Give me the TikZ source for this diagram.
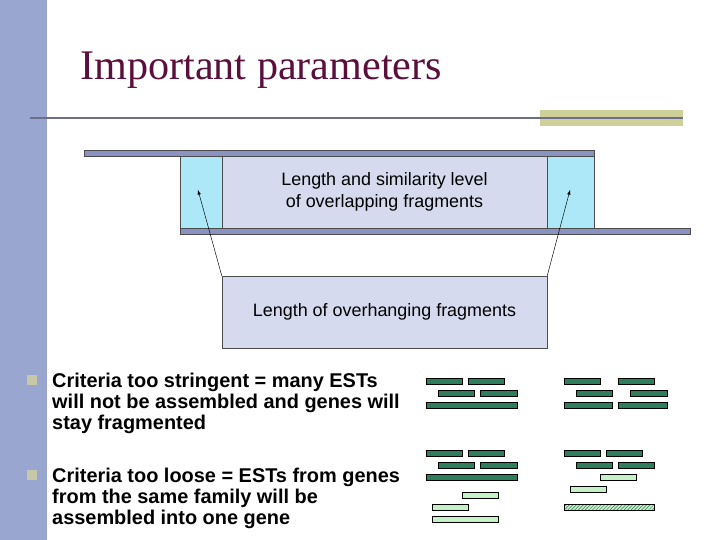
\documentclass[tikz,border=0pt]{standalone}
\usepackage{fontspec}
\setmainfont{Liberation Sans}
\newfontfamily\titlefont{Liberation Serif}
\usetikzlibrary{positioning,patterns}
\definecolor{sidebar}{HTML}{98A6D0}
\definecolor{titlered}{HTML}{5A0F3C}
\definecolor{rulegray}{HTML}{6B6F8C}
\definecolor{khaki}{HTML}{CFCF9A}
\definecolor{seqblue}{HTML}{8A92C0}
\definecolor{overcyan}{HTML}{ACE8F8}
\definecolor{boxlav}{HTML}{D6DAEE}
\definecolor{estdark}{HTML}{2E7D5B}
\definecolor{estlight}{HTML}{C8F0C8}
\definecolor{bulletc}{HTML}{C8C8A8}
\tikzset{
  seq/.style={draw=black!70, fill=seqblue, line width=0.6pt},
  est/.style={draw=black, fill=estdark, line width=0.6pt},
  estl/.style={draw=black, fill=estlight, line width=0.6pt},
  lbl/.style={font=\fontsize{15.3}{18.7}\selectfont, align=center},
  bul/.style={font=\bfseries\fontsize{17}{17.9}\selectfont, align=left, anchor=north west, inner sep=0pt},
}
\begin{document}
\begin{tikzpicture}[x=0.03cm, y=-0.03cm]
	% Frame and title:
	\useasboundingbox (0,0) rectangle (720,540);
	\fill[sidebar] (0,0) rectangle (47,540);
	\fill[khaki] (540,110) rectangle (683,126);
	\draw[rulegray, line width=1.2pt] (30,118) -- (683,118);
	\node[anchor=west, text=titlered, font=\titlefont\fontsize{36}{40}\selectfont, inner sep=0pt] (title) at (80,70) {Important parameters};
	% Sequences and overlap:
	\draw[seq] (84,150) rectangle (594,156);
	\draw[seq] (180,228) rectangle (690,234);
	\node[draw=black!70, fill=overcyan, minimum width=42*0.03cm, minimum height=72*0.03cm, inner sep=0pt] (ovl) at (201,192) {};
	\node[draw=black!70, fill=overcyan, minimum width=47*0.03cm, minimum height=72*0.03cm, inner sep=0pt] (ovr) at (570.5,192) {};
	\node[draw=black!70, fill=boxlav, minimum width=325*0.03cm, minimum height=72*0.03cm, lbl] (overlap) at (384.5,192) {Length and similarity level\\of overlapping fragments};
	\node[draw=black!70, fill=boxlav, minimum width=325*0.03cm, minimum height=72*0.03cm, lbl] (overhang) at (384.5,312) {Length of overhanging fragments};
	\draw[-latex] (overhang.north west) -- (198,190);
	\draw[-latex] (overhang.north east) -- (570,190);
	% Bullets:
	\fill[bulletc] (27,375) rectangle (37,385);
	\fill[bulletc] (27,470) rectangle (37,480);
	\node[bul] (crit1) at (52,373) {Criteria too stringent = many ESTs\\will not be assembled and genes will\\stay fragmented};
	\node[bul] (crit2) at (52,468) {Criteria too loose = ESTs from genes\\from the same family will be\\assembled into one gene};
	% ESTs:
	\foreach \a/\b/\y in {426/462/378, 468/504/378, 438/474/390, 480/517/390, 426/517/402,
	                      564/600/378, 618/654/378, 576/612/390, 630/667/390, 564/612/402, 618/667/402,
	                      426/462/450, 468/504/450, 438/474/462, 480/517/462, 426/517/474,
	                      564/600/450, 606/642/450, 576/612/462, 618/654/462}
	  \draw[est] (\a,\y) rectangle (\b,\y+6);
	\foreach \a/\b/\y in {462/498/492, 432/468/504, 432/498/516, 600/636/474, 570/606/486}
	  \draw[estl] (\a,\y) rectangle (\b,\y+6);
	\fill[estlight] (564,504) rectangle (654,510);
	\fill[pattern=north east lines, pattern color=estdark] (564,504) rectangle (654,510);
	\draw[line width=0.6pt] (564,504) rectangle (654,510);
\end{tikzpicture}
\end{document}
